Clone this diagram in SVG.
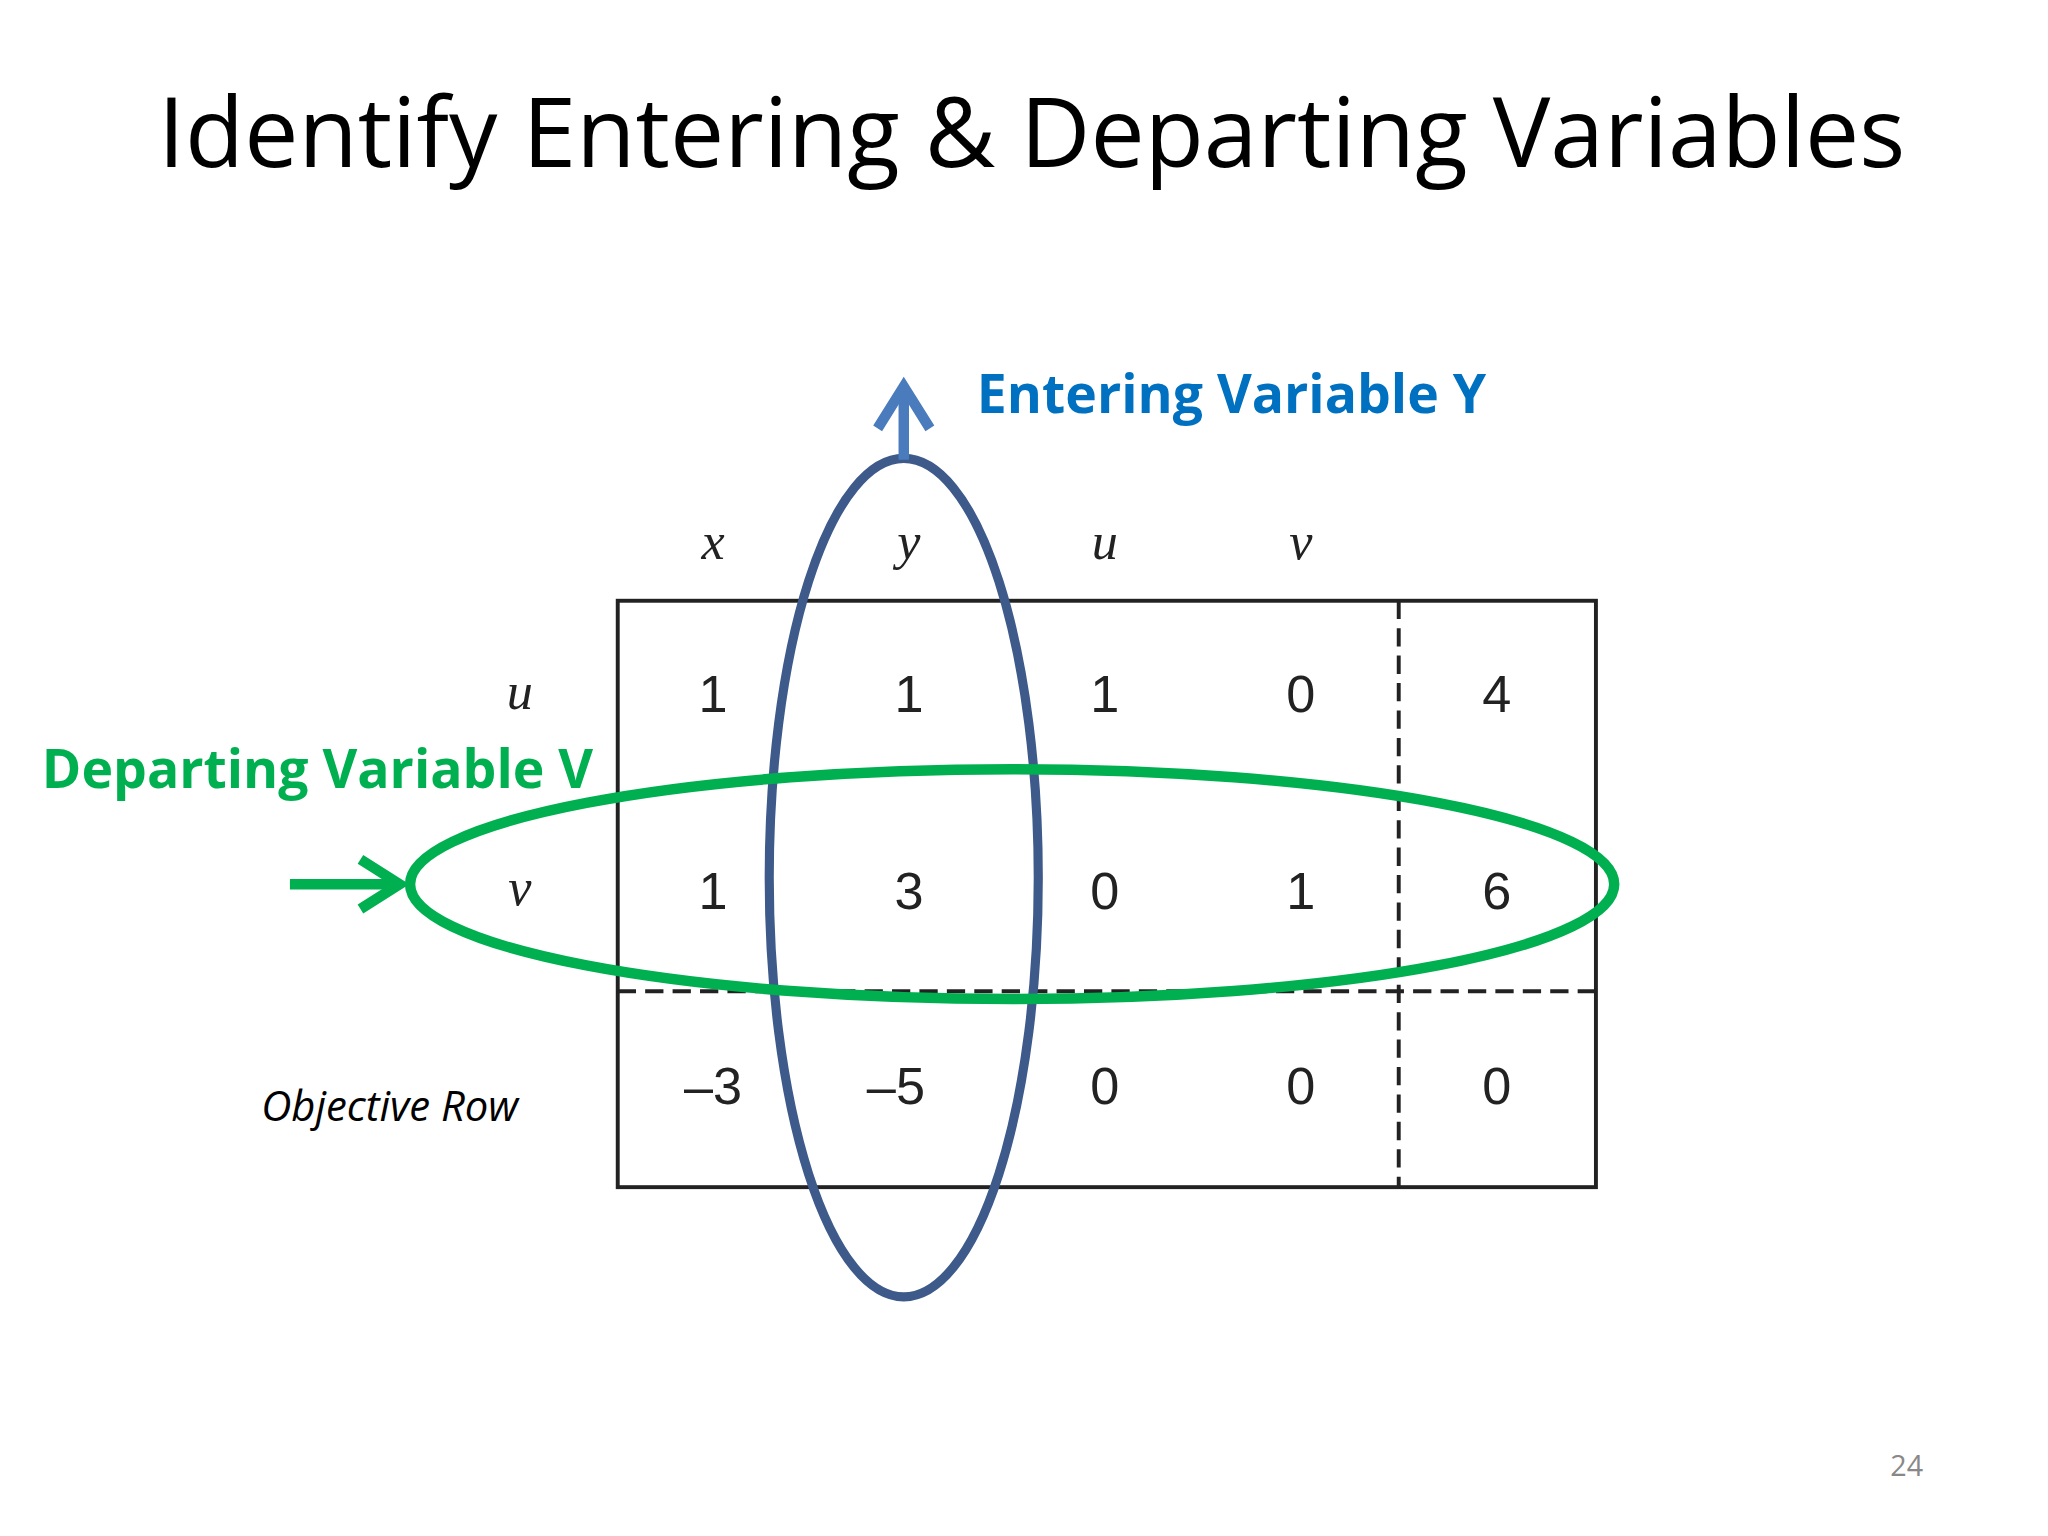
<svg xmlns="http://www.w3.org/2000/svg" width="2048" height="1536" viewBox="0 0 2048 1536">
<style>
.n{font-family:"Liberation Sans",Arial,sans-serif;font-size:40px;fill:#222;text-anchor:middle}
.h{font-family:"Liberation Serif",serif;font-style:italic;font-size:40px;fill:#222;text-anchor:middle}
.b{font-family:"Open Sans","Liberation Sans",sans-serif;font-weight:bold;font-size:41px}
</style>
<rect width="2048" height="1536" fill="#fff"/>
<g transform="scale(1.306)">
<g id="title"><text x="790" y="128" font-family="Open Sans, Liberation Sans, sans-serif" font-size="74" text-anchor="middle" fill="#000">Identify Entering &amp; Departing Variables</text></g>
<g id="table">
<rect x="473" y="460" width="749" height="449" fill="none" stroke="#222" stroke-width="3"/>
<line x1="1071" y1="460" x2="1071" y2="909" stroke="#222" stroke-width="3" stroke-dasharray="14,7"/>
<line x1="473" y1="759" x2="1222" y2="759" stroke="#222" stroke-width="3" stroke-dasharray="14,7"/>
<text class="h" x="546" y="428">x</text><text class="h" x="696" y="428">y</text><text class="h" x="846" y="428">u</text><text class="h" x="996" y="428">v</text>
<text class="h" x="398" y="543">u</text><text class="h" x="398" y="693">v</text>
<text class="n" x="546" y="545">1</text><text class="n" x="696" y="545">1</text><text class="n" x="846" y="545">1</text><text class="n" x="996" y="545">0</text><text class="n" x="1146" y="545">4</text>
<text class="n" x="546" y="696">1</text><text class="n" x="696" y="696">3</text><text class="n" x="846" y="696">0</text><text class="n" x="996" y="696">1</text><text class="n" x="1146" y="696">6</text>
<text class="n" x="546" y="845">–3</text><text class="n" x="686" y="845">–5</text><text class="n" x="846" y="845">0</text><text class="n" x="996" y="845">0</text><text class="n" x="1146" y="845">0</text>
<text x="200" y="858" font-family="Open Sans, Liberation Sans, sans-serif" font-style="italic" font-size="32" fill="#000">Objective Row</text>
</g>
<g id="entering">
<ellipse cx="692" cy="672" rx="103" ry="321" fill="none" stroke="#3d5a8a" stroke-width="7"/>
<line x1="692" y1="352" x2="692" y2="296" stroke="#4a7bbd" stroke-width="8"/>
<polyline points="672,328 692,296 712,328" fill="none" stroke="#4a7bbd" stroke-width="8"/>
<text class="b" x="748" y="316" fill="#0070c0">Entering Variable Y</text>
</g>
<g id="departing">
<ellipse cx="775" cy="677" rx="461" ry="88" fill="none" stroke="#00b050" stroke-width="8"/>
<line x1="222" y1="677" x2="306" y2="677" stroke="#00b050" stroke-width="8"/>
<polyline points="276,658 306,677 276,696" fill="none" stroke="#00b050" stroke-width="8"/>
<text class="b" x="32" y="603" fill="#00b050">Departing Variable V</text>
</g>
<text x="1460" y="1130" font-family="Open Sans, Liberation Sans, sans-serif" font-size="22" fill="#888" text-anchor="middle">24</text>
</g>
</svg>
